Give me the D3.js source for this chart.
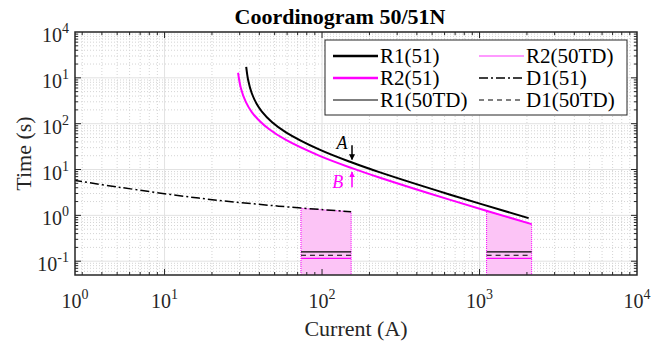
<!DOCTYPE html>
<html>
<head>
<meta charset="utf-8">
<script src="https://cdn.jsdelivr.net/npm/d3@7"></script>
<style>
  body { margin: 0; background: #fff; }
  text { font-family: "Liberation Serif", "Times New Roman", serif; }
</style>
</head>
<body>
<div id="chart"></div>
<script>
// canvas size
const width = 665;
const height = 349;

// --- data ---
// R1(51) relay curve
const r1Current = [33.0, 34.0, 35.8, 38.5, 41.5, 48, 59, 95.7, 155, 231, 644, 2050];
const r1Time    = [1738, 873, 461, 269, 184, 109, 64.9, 27.5, 14.2, 8.77, 2.86, 0.87];
// R2(51) relay curve
const r2Current = [29.3, 30.5, 32.8, 35.8, 39.7, 46, 59, 95.7, 155, 231, 644, 2143];
const r2Time    = [1291, 601, 298, 179, 119, 76.6, 44.1, 20.1, 10.7, 6.69, 2.2, 0.644];
// D1(51) curve
const d1Current = [2.63, 5.1, 16.5, 53, 153];
const d1Time    = [5.87, 4.13, 2.38, 1.59, 1.2];
// 50TD zones (current range and top of shaded patch)
const tdStart = [73.5, 1109];
const tdEnd   = [153, 2143];
const tdTopStart = [1.42, 1.25];
const tdTopEnd   = [1.2, 0.644];
// 50TD definite time levels
const r1TD = 0.16;
const d1TD = 0.135;
const r2TD = 0.115;
// annotation arrows (A on R1, B on R2)
const arrowCurrent = 155;
const arrowA = [34, 16.5];
const arrowB = [4.1, 8.8];
const labelA = [134, 28.6];
const labelB = [126, 3.93];
// tick labels (as printed on the figure)
const xTickVals = [2.7, 10, 100, 1000, 10000];
const xTickExp  = ['0', '1', '2', '3', '4'];
const yTickVals = [1e4, 1e3, 1e2, 1e1, 1e0, 1e-1];
const yTickExp  = ['4', '1', '2', '1', '0', '-1'];

const magenta = '#ff00ff';

const svg = d3.select('#chart')
  .append('svg')
  .attr('width', width)
  .attr('height', height);

const margin = { top: 32, right: 28, bottom: 74, left: 75 };
const innerW = width - margin.left - margin.right;
const innerH = height - margin.top - margin.bottom;

const x = d3.scaleLog().domain([2.7, 1e4]).range([0, innerW]);
const y = d3.scaleLog().domain([0.05, 1e4]).range([innerH, 0]);

const g = svg.append('g')
  .attr('transform', `translate(${margin.left},${margin.top})`);

g.append('clipPath').attr('id', 'clip')
  .append('rect').attr('width', innerW).attr('height', innerH);

// minor / major tick values
const minorX = [], minorY = [];
for (let e = 0; e < 4; e++) for (let k = 2; k < 10; k++) {
  const v = k * Math.pow(10, e);
  if (v > 2.7 && v < 1e4) minorX.push(v);
}
for (let e = -2; e < 4; e++) for (let k = 2; k < 10; k++) {
  const v = k * Math.pow(10, e);
  if (v > 0.05 && v < 1e4) minorY.push(v);
}
const majorX = [10, 100, 1000];
const majorY = [1e3, 1e2, 1e1, 1, 0.1];

// grid
const grid = g.append('g');
grid.selectAll('.mx').data(minorX).enter().append('line')
  .attr('x1', d => x(d)).attr('x2', d => x(d)).attr('y1', 0).attr('y2', innerH)
  .attr('stroke', '#d4d4d4').attr('stroke-width', 1).attr('stroke-dasharray', '1,2');
grid.selectAll('.my').data(minorY).enter().append('line')
  .attr('y1', d => y(d)).attr('y2', d => y(d)).attr('x1', 0).attr('x2', innerW)
  .attr('stroke', '#d4d4d4').attr('stroke-width', 1).attr('stroke-dasharray', '1,2');
grid.selectAll('.gx').data(majorX).enter().append('line')
  .attr('x1', d => x(d)).attr('x2', d => x(d)).attr('y1', 0).attr('y2', innerH)
  .attr('stroke', '#e2e2e2').attr('stroke-width', 1);
grid.selectAll('.gy').data(majorY).enter().append('line')
  .attr('y1', d => y(d)).attr('y2', d => y(d)).attr('x1', 0).attr('x2', innerW)
  .attr('stroke', '#e2e2e2').attr('stroke-width', 1);

const plot = g.append('g').attr('clip-path', 'url(#clip)');

// 50TD shaded zones
tdStart.forEach((s, i) => {
  const pts = [[s, 0.05], [s, tdTopStart[i]], [tdEnd[i], tdTopEnd[i]], [tdEnd[i], 0.05]];
  plot.append('path')
    .attr('d', d3.line().x(d => x(d[0])).y(d => y(d[1]))(pts))
    .attr('fill', '#fcc4f6')
    .attr('stroke', magenta)
    .attr('stroke-width', 1)
    .attr('stroke-dasharray', '1,1');
});

// 50TD levels
const tdLines = [
  { v: r1TD, color: '#000', dash: null },
  { v: d1TD, color: '#000', dash: '5,4' },
  { v: r2TD, color: magenta, dash: null }
];
tdStart.forEach((s, i) => {
  tdLines.forEach(l => {
    plot.append('line')
      .attr('x1', x(s)).attr('x2', x(tdEnd[i]))
      .attr('y1', y(l.v)).attr('y2', y(l.v))
      .attr('stroke', l.color).attr('stroke-width', 1.2)
      .attr('stroke-dasharray', l.dash);
  });
});

const line = d3.line()
  .x(d => x(d[0])).y(d => y(d[1]))
  .curve(d3.curveCatmullRom.alpha(0.5));

plot.append('path')
  .attr('d', line(d1Current.map((c, i) => [c, d1Time[i]])))
  .attr('fill', 'none').attr('stroke', '#000').attr('stroke-width', 1.5)
  .attr('stroke-dasharray', '9,3,2,3');

plot.append('path')
  .attr('d', line(r2Current.map((c, i) => [c, r2Time[i]])))
  .attr('fill', 'none').attr('stroke', magenta).attr('stroke-width', 2);

plot.append('path')
  .attr('d', line(r1Current.map((c, i) => [c, r1Time[i]])))
  .attr('fill', 'none').attr('stroke', '#000').attr('stroke-width', 2);

// axes box
g.append('rect')
  .attr('width', innerW).attr('height', innerH)
  .attr('fill', 'none').attr('stroke', '#262626').attr('stroke-width', 1.5);

// tick marks (inside, all four sides)
const ticks = g.append('g').attr('stroke', '#262626').attr('stroke-width', 1);
const tickX = (vals, len) => vals.forEach(v => {
  ticks.append('line').attr('x1', x(v)).attr('x2', x(v)).attr('y1', innerH).attr('y2', innerH - len);
  ticks.append('line').attr('x1', x(v)).attr('x2', x(v)).attr('y1', 0).attr('y2', len);
});
const tickY = (vals, len) => vals.forEach(v => {
  ticks.append('line').attr('y1', y(v)).attr('y2', y(v)).attr('x1', 0).attr('x2', len);
  ticks.append('line').attr('y1', y(v)).attr('y2', y(v)).attr('x1', innerW).attr('x2', innerW - len);
});
tickX(majorX, 6); tickX(minorX, 3);
tickY(majorY, 6); tickY(minorY, 3);

// tick labels
xTickVals.forEach((v, i) => {
  const t = g.append('text')
    .attr('x', x(v)).attr('y', innerH + 33)
    .attr('text-anchor', 'middle')
    .attr('font-size', 20).attr('fill', '#262626');
  t.append('tspan').text('10');
  t.append('tspan').attr('dy', -9).attr('font-size', 14).text(xTickExp[i]);
});
yTickVals.forEach((v, i) => {
  const t = g.append('text')
    .attr('x', -6).attr('y', y(v) + 10)
    .attr('text-anchor', 'end')
    .attr('font-size', 20).attr('fill', '#262626');
  t.append('tspan').text('10');
  t.append('tspan').attr('dy', -9).attr('font-size', 14).text(yTickExp[i]);
});

// axis labels and title
svg.append('text')
  .attr('x', margin.left + innerW / 2).attr('y', 336)
  .attr('text-anchor', 'middle').attr('font-size', 22).attr('fill', '#262626')
  .text('Current (A)');
svg.append('text')
  .attr('transform', `translate(31,${margin.top + innerH / 2}) rotate(-90)`)
  .attr('text-anchor', 'middle').attr('font-size', 22).attr('fill', '#262626')
  .text('Time (s)');
svg.append('text')
  .attr('x', 340).attr('y', 24)
  .attr('text-anchor', 'middle').attr('font-size', 22).attr('font-weight', 'bold')
  .text('Coordinogram 50/51N');

// annotations
const defs = svg.append('defs');
[['headK', '#000'], ['headM', magenta]].forEach(([id, c]) => {
  defs.append('marker').attr('id', id)
    .attr('viewBox', '0 0 10 10').attr('refX', 9).attr('refY', 5)
    .attr('markerWidth', 6).attr('markerHeight', 6)
    .attr('markerUnits', 'userSpaceOnUse')
    .attr('orient', 'auto')
    .append('path').attr('d', 'M0,0L10,5L0,10Z').attr('fill', c);
});
g.append('line')
  .attr('x1', x(arrowCurrent)).attr('x2', x(arrowCurrent))
  .attr('y1', y(arrowA[0])).attr('y2', y(arrowA[1]))
  .attr('stroke', '#000').attr('stroke-width', 1.5).attr('marker-end', 'url(#headK)');
g.append('line')
  .attr('x1', x(arrowCurrent)).attr('x2', x(arrowCurrent))
  .attr('y1', y(arrowB[0])).attr('y2', y(arrowB[1]))
  .attr('stroke', magenta).attr('stroke-width', 1.5).attr('marker-end', 'url(#headM)');
g.append('text')
  .attr('x', x(labelA[0])).attr('y', y(labelA[1]))
  .attr('text-anchor', 'middle').attr('font-size', 18).attr('font-style', 'italic')
  .text('A');
g.append('text')
  .attr('x', x(labelB[0])).attr('y', y(labelB[1]))
  .attr('text-anchor', 'middle').attr('font-size', 18).attr('font-style', 'italic')
  .attr('fill', magenta)
  .text('B');

// legend
const legend = svg.append('g');
legend.append('rect')
  .attr('x', 325).attr('y', 40).attr('width', 302).attr('height', 75)
  .attr('fill', '#fff').attr('stroke', '#262626').attr('stroke-width', 1);
const legendItems = [
  { name: 'R1(51)', color: '#000', w: 2.5, dash: null, col: 0, row: 0 },
  { name: 'R2(51)', color: magenta, w: 2.5, dash: null, col: 0, row: 1 },
  { name: 'R1(50TD)', color: '#000', w: 1.2, dash: null, col: 0, row: 2 },
  { name: 'R2(50TD)', color: '#ff77ff', w: 1.5, dash: null, col: 1, row: 0 },
  { name: 'D1(51)', color: '#000', w: 1.5, dash: '9,3,2,3', col: 1, row: 1 },
  { name: 'D1(50TD)', color: '#000', w: 1.2, dash: '5,4', col: 1, row: 2 }
];
legendItems.forEach(d => {
  const lx = d.col === 0 ? 333 : 479;
  const ly = 56 + d.row * 22;
  legend.append('line')
    .attr('x1', lx).attr('x2', lx + 45).attr('y1', ly).attr('y2', ly)
    .attr('stroke', d.color).attr('stroke-width', d.w)
    .attr('stroke-dasharray', d.dash);
  legend.append('text')
    .attr('x', lx + 47).attr('y', ly + 7)
    .attr('font-size', 21)
    .text(d.name);
});
</script>
</body>
</html>
